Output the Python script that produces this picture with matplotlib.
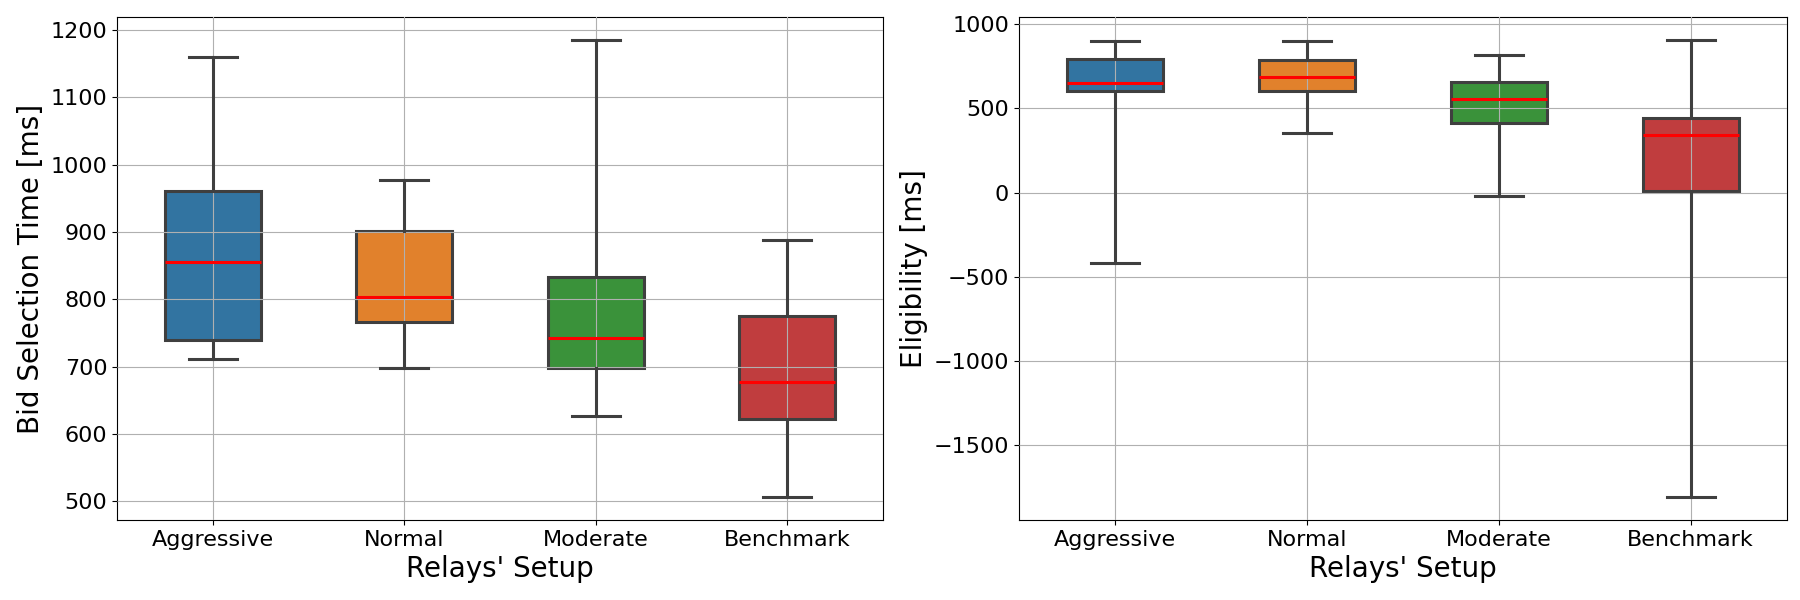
import matplotlib
matplotlib.use("Agg")
import matplotlib.pyplot as plt
import seaborn as sns

# relay setups and box-plot stats
setups = ["Aggressive", "Normal", "Moderate", "Benchmark"]

# bid selection time [ms]
bid_lo = [711, 698, 627, 506]
bid_q1 = [740, 766, 698, 623]
bid_med = [856, 803, 742, 677]
bid_q3 = [961, 901, 833, 775]
bid_hi = [1160, 978, 1185, 889]

# eligibility [ms]
elig_lo = [-418, 353, -20, -1810]
elig_q1 = [606, 602, 411, 8]
elig_med = [650, 686, 554, 345]
elig_q3 = [792, 790, 655, 442]
elig_hi = [900, 900, 817, 905]

colors = sns.color_palette("tab10", 4, desat=0.75)


def make_stats(lo, q1, med, q3, hi):
    return [dict(whislo=a, q1=b, med=c, q3=d, whishi=e, fliers=[])
            for a, b, c, d, e in zip(lo, q1, med, q3, hi)]


def draw(ax, stats, ylabel):
    line = dict(color="#3f3f3f", linewidth=2.2, zorder=3)
    bp = ax.bxp(stats, positions=range(len(stats)), widths=0.5,
                patch_artist=True, showfliers=False,
                boxprops=dict(edgecolor="#3f3f3f", linewidth=2.2, zorder=1),
                whiskerprops=line, capprops=line,
                medianprops=dict(color="red", linewidth=2.2, zorder=3),
                capwidths=0.25)
    for patch, c in zip(bp["boxes"], colors):
        patch.set_facecolor(c)
    ax.set_xticks(range(len(setups)))
    ax.set_xticklabels(setups, fontsize=16)
    ax.tick_params(axis="y", labelsize=16)
    ax.set_xlim(-0.5, len(setups) - 0.5)
    ax.set_xlabel("Relays' Setup", fontsize=20)
    ax.set_ylabel(ylabel, fontsize=20)
    ax.grid(True, color="#b0b0b0", linewidth=0.8)
    ax.set_axisbelow(False)
    ax.margins(y=0.05)


fig = plt.figure(figsize=(18, 6), dpi=100)
ax1 = fig.add_axes([0.065, 0.133, 0.4255, 0.838])
ax2 = fig.add_axes([0.566, 0.133, 0.4265, 0.838])

draw(ax1, make_stats(bid_lo, bid_q1, bid_med, bid_q3, bid_hi), "Bid Selection Time [ms]")
draw(ax2, make_stats(elig_lo, elig_q1, elig_med, elig_q3, elig_hi), "Eligibility [ms]")
ax1.set_yticks([500, 600, 700, 800, 900, 1000, 1100, 1200])
ax2.set_yticks([-1500, -1000, -500, 0, 500, 1000])

fig.savefig("out.png", dpi=100)
